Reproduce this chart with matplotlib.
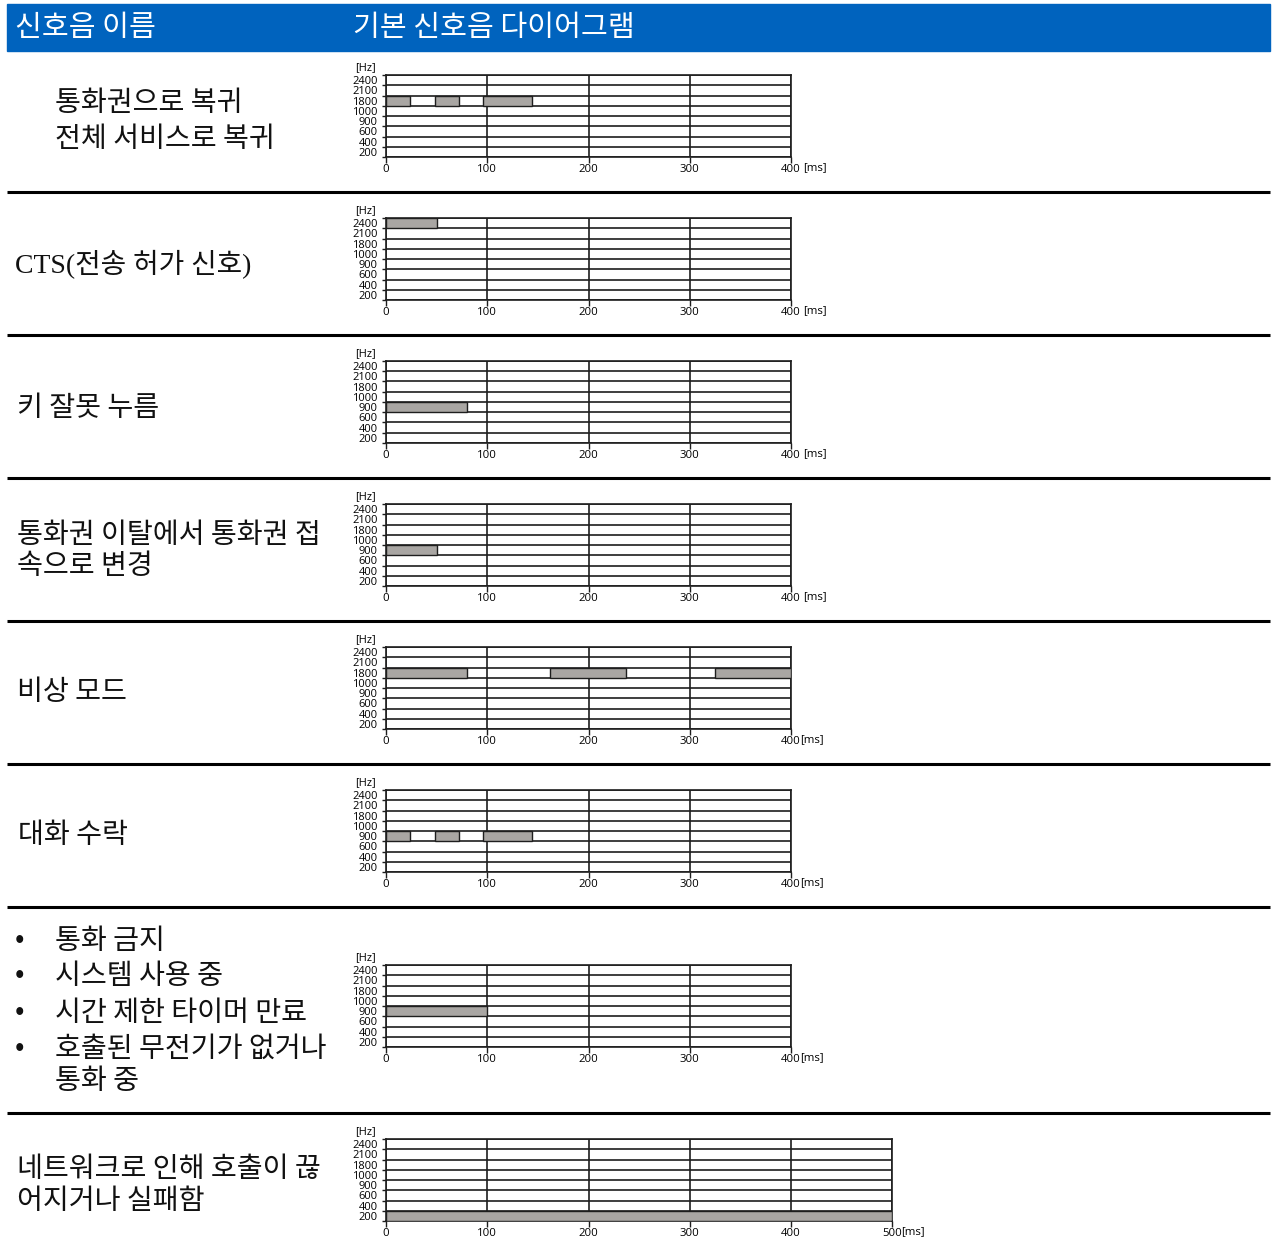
import matplotlib
matplotlib.use('Agg')
import matplotlib.pyplot as plt
from matplotlib.patches import Rectangle

plt.rcParams['font.family'] = ['Noto Sans CJK KR', 'DejaVu Sans']

# frequency bands (bottom -> top) and time ticks
freq_labels = ['200', '400', '600', '900', '1000', '1800', '2100', '2400']
time_ticks = [0, 100, 200, 300, 400, 500]

# one row per tone
tone_names = [
    ['통화권으로 복귀', '전체 서비스로 복귀'],
    ['CTS(전송 허가 신호)'],
    ['키 잘못 누름'],
    ['통화권 이탈에서 통화권 접', '속으로 변경'],
    ['비상 모드'],
    ['대화 수락'],
    ['통화 금지', '시스템 사용 중', '시간 제한 타이머 만료', '호출된 무전기가 없거나', '통화 중'],
    ['네트워크로 인해 호출이 끊', '어지거나 실패함'],
]
tone_bands = ['1800', '2400', '900', '900', '1800', '900', '900', '200']
tone_starts = [[0, 48, 96], [0], [0], [0], [0, 162, 325], [0, 48, 96], [0], [0]]
tone_ends = [[24, 72, 144], [50], [80], [50], [80, 237, 400], [24, 72, 144], [100], [500]]
tone_xmax = [400, 400, 400, 400, 400, 400, 400, 500]
ms_gap = [True, True, True, True, False, False, False, False]

W, H = 1272, 1251
fig = plt.figure(figsize=(W / 100, H / 100), dpi=100)

# background layer in pixel coordinates for the table frame
bg = fig.add_axes([0, 0, 1, 1])
bg.set_xlim(0, W)
bg.set_ylim(H, 0)
bg.axis('off')

blue = '#0063be'
bar_gray = '#a9a6a3'
line_col = '#1e1e1e'

bg.add_patch(Rectangle((7, 4), 1263, 47, color=blue, zorder=0))
bg.text(15, 28, '신호음 이름', color='white', fontsize=21, va='center', ha='left', fontweight='medium')
bg.text(353, 28, '기본 신호음 다이어그램', color='white', fontsize=21, va='center', ha='left', fontweight='medium')

for y in [192, 335, 478, 621, 764, 907, 1113]:
    bg.plot([7, 1270], [y, y], color='black', lw=2.2, solid_capstyle='butt')

# row label layout (pixels)
label_x = [55, 15, 17, 17, 17, 18, 55, 17]
label_y = [[100, 136], [262], [405], [532, 563], [689], [832],
           [938, 973, 1010, 1046, 1078], [1166, 1198]]
chart_tops = [75, 218, 361, 504, 647, 790, 965, 1139]
chart_h = 82
px_per_ms = (791 - 386) / 400

for i, lines in enumerate(tone_names):
    for j, txt in enumerate(lines):
        cts = txt.startswith('CTS')
        fam = ['Liberation Serif', 'Noto Sans CJK KR'] if cts else ['Noto Sans CJK KR', 'DejaVu Sans']
        bg.text(label_x[i], label_y[i][j] + 3, txt, fontsize=20 if cts else 20.3, va='center', ha='left',
                color='#111111', family=fam)
    if i == 6:
        for j in range(4):
            bg.text(20, label_y[i][j] + 2, '•', fontsize=20, va='center', ha='center', color='#111111')

for i in range(len(tone_names)):
    left = 386
    right = left + tone_xmax[i] * px_per_ms
    top = chart_tops[i]
    bottom = top + chart_h
    ax = fig.add_axes([left / W, 1 - bottom / H, (right - left) / W, chart_h / H])
    band = freq_labels.index(tone_bands[i])
    widths = [e - s for s, e in zip(tone_starts[i], tone_ends[i])]
    ax.barh([band + 0.5] * len(widths), widths, left=tone_starts[i], height=1,
            color=bar_gray, edgecolor=line_col, linewidth=1.0, zorder=3)
    ax.set_xlim(0, tone_xmax[i])
    ax.set_ylim(0, len(freq_labels))
    xt = [t for t in time_ticks if t <= tone_xmax[i]]
    ax.set_xticks(xt)
    ax.set_xticklabels([str(t) for t in xt], fontsize=8.2, family='Open Sans')
    ax.set_yticks([k + 0.5 for k in range(len(freq_labels))])
    ax.set_yticklabels(freq_labels, fontsize=8, family='Open Sans')
    ax.set_yticks(range(len(freq_labels) + 1), minor=True)
    ax.tick_params(axis='y', which='major', length=0, pad=6)
    ax.tick_params(axis='y', which='minor', length=3, width=1, color=line_col)
    ax.tick_params(axis='x', length=4, width=1, color=line_col, pad=1)
    ax.grid(True, which='minor', axis='y', color=line_col, lw=1.2)
    ax.grid(True, which='major', axis='x', color=line_col, lw=1.2)
    ax.set_axisbelow(True)
    for sp in ax.spines.values():
        sp.set_color(line_col)
        sp.set_linewidth(1.2)
    bg.text(365, top - 7, '[Hz]', fontsize=8, family='Open Sans', ha='center', va='center')
    ms_x = right + (12 if ms_gap[i] else 9)
    bg.text(ms_x, bottom + 11, '[ms]', fontsize=8.2, family='Open Sans', ha='left', va='center')

fig.savefig('out.png', dpi=100)
